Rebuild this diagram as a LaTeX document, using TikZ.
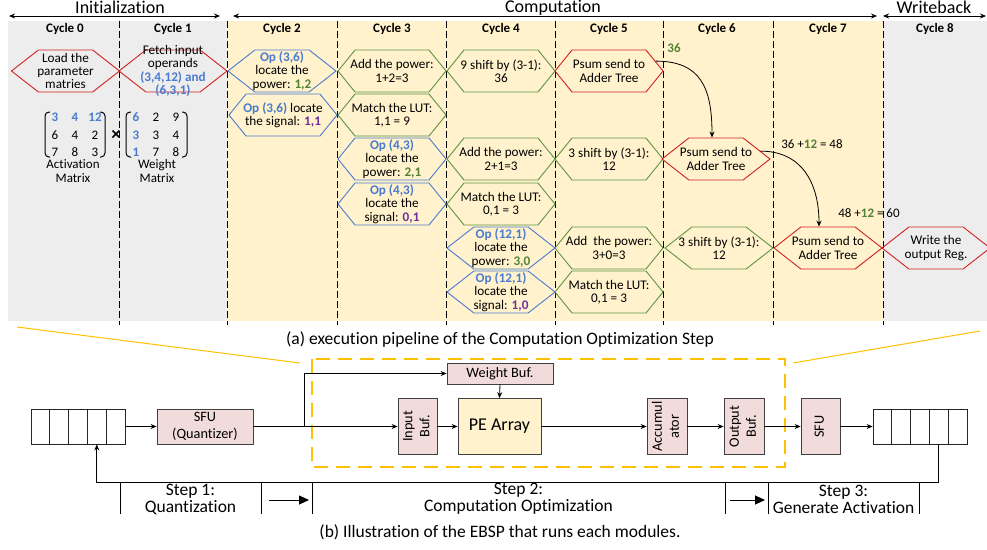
\documentclass[tikz,border=0pt]{standalone}
\usepackage{fontspec}
\setmainfont{Carlito}[Ligatures={NoCommon}]
\usepackage{graphicx}
\usepackage{tikz}
\usetikzlibrary{positioning, arrows.meta, calc, shapes.symbols}
\definecolor{panelGray}{HTML}{EDEDED}
\definecolor{panelYel}{HTML}{FFF2CC}
\definecolor{hexRed}{HTML}{D42020}
\definecolor{hexGreen}{HTML}{5F9444}
\definecolor{hexBlue}{HTML}{4A7BD0}
\definecolor{numGreen}{HTML}{548235}
\definecolor{numPurple}{HTML}{7030A0}
\definecolor{bufPink}{HTML}{F2DCDB}
\definecolor{peYel}{HTML}{FFF2CC}
\definecolor{zoomYel}{HTML}{FFC000}
\newcommand{\opnd}[1]{\textbf{\textcolor{hexBlue}{#1}}}
\newcommand{\pwr}[1]{\textbf{\textcolor{numGreen}{#1}}}
\newcommand{\sgn}[1]{\textbf{\textcolor{numPurple}{#1}}}
\newcommand{\vtxt}[1]{\rotatebox{90}{\begin{tabular}{@{}c@{}}#1\end{tabular}}}

\begin{document}
\begin{tikzpicture}[x=1pt, y=-1pt, hexw/.style={shape=signal, signal to=east and west, signal pointer angle=76, minimum width=108pt, minimum height=42pt, inner sep=0pt, line width=0.9pt}, hexn/.style={hexw, signal pointer angle=102}, txt/.style={align=center, inner sep=0pt, font=\fontsize{13.2}{13.3}\selectfont}, cyc/.style={font=\fontsize{13}{14}\selectfont\bfseries}, sep/.style={dash pattern=on 6.5pt off 3.5pt, line width=0.9pt}, span/.style={{Stealth[length=6pt,width=5pt]}-{Stealth[length=6pt,width=5pt]}, line width=0.8pt}, num/.style={font=\fontsize{13}{14}\selectfont}, box/.style={draw=black!75, fill=bufPink, line width=0.8pt, inner sep=0pt, align=center, font=\fontsize{14.3}{17}\selectfont}, cell/.style={draw=black!85, minimum width=18.8pt, minimum height=35pt, inner sep=0pt, line width=0.8pt}, arr/.style={-{Stealth[length=6pt,width=5pt]}, line width=0.8pt}, big/.style={-{Triangle[length=10pt,width=9pt]}, line width=0.9pt}, stp/.style={align=center, inner sep=0pt, font=\fontsize{17.5}{17}\selectfont}, capline/.style={font=\fontsize{17.5}{18}\selectfont}]
\useasboundingbox (0,0) rectangle (987,549);
% cycle panels
\fill[panelGray] (8,21) rectangle (227,321);
\fill[panelYel] (227,21) rectangle (883,321);
\fill[panelGray] (883,21) rectangle (987,321);
\foreach \x in {119,227,337,446,555,663,773,883} \draw[sep] (\x,21) -- (\x,325);
% phases
\node[font=\fontsize{18}{18}\selectfont] (init) at (120,7.5) {Initialization};
\node[font=\fontsize{18}{18}\selectfont] (comp) at (553,7.5) {Computation};
\node[font=\fontsize{18}{18}\selectfont] (wb) at (934,7.5) {Writeback};
\draw[span] (9,16) -- (220,16);
\draw[span] (233,16) -- (877,16);
\draw[span] (883,16) -- (986,16);
\foreach \x/\n in {65/0,173/1,282/2,392/3,501/4,609/5,717/6,828/7,935/8} \node[cyc] (cy\n) at (\x,29) {Cycle \n};
% cycle 0 and 1
\node[hexw, draw=hexRed] (load) at (65.5,71) {}; \node[txt] (loadt) at (load) {Load the\\parameter\\matries};
\node[hexw, draw=hexRed] (fetch) at (173,71) {}; \node[txt] (fetcht) at (fetch) {Fetch input\\operands\\\opnd{(3,4,12) and}\\\opnd{(6,3,1)}};
% activation x weight
\draw[line width=1pt, rounded corners=4pt] (50,112) -| (45,157) -- (50,157);
\draw[line width=1pt, rounded corners=4pt] (100,112) -| (105,157) -- (100,157);
\draw[line width=1pt, rounded corners=4pt] (131,112) -| (126,157) -- (131,157);
\draw[line width=1pt, rounded corners=4pt] (182,112) -| (187,157) -- (182,157);
\foreach \v [count=\i] in {3,4,12} \node[num, text=hexBlue, font=\bfseries\fontsize{13}{14}\selectfont] (a1\i) at ({35+20*\i},117) {\v};
\foreach \v [count=\i] in {6,4,2} \node[num] (a2\i) at ({35+20*\i},135) {\v};
\foreach \v [count=\i] in {7,8,3} \node[num] (a3\i) at ({35+20*\i},152) {\v};
\foreach \v/\r in {6/117,3/135,1/152} \node[num, text=hexBlue, font=\bfseries\fontsize{13}{14}\selectfont] (w\v) at (136,\r) {\v};
\foreach \a/\b/\r in {2/9/117,3/4/135,7/8/152} {\node[num] (wm\r) at (156,\r) {\a}; \node[num] (wr\r) at (176,\r) {\b};}
\node[font=\bfseries\fontsize{19}{19}\selectfont] (times) at (116,135) {×};
\node[txt, font=\fontsize{13}{13.5}\selectfont] (actm) at (73,171) {Activation\\Matrix};
\node[txt, font=\fontsize{13}{13.5}\selectfont] (wgtm) at (157,171) {Weight\\Matrix};
% cycle 2
\node[hexw, draw=hexBlue] (p36) at (282,71) {}; \node[txt] (p36t) at (p36) {\opnd{Op (3,6)}\\locate the\\power: \pwr{1,2}};
\node[hexn, draw=hexBlue] (s36) at (283,115) {}; \node[txt] (s36t) at (s36) {\opnd{Op (3,6)} locate\\the signal: \sgn{1,1}};
% cycle 3
\node[hexn, draw=hexGreen] (add1) at (392,71) {}; \node[txt] (add1t) at (add1) {Add the power:\\1+2=3};
\node[hexn, draw=hexGreen] (lut1) at (392,115) {}; \node[txt] (lut1t) at (lut1) {Match the LUT:\\1,1 = 9};
\node[hexn, draw=hexBlue] (p43) at (392,159) {}; \node[txt] (p43t) at (p43) {\opnd{Op (4,3)}\\locate the\\power: \pwr{2,1}};
\node[hexn, draw=hexBlue] (s43) at (392,204) {}; \node[txt] (s43t) at (s43) {\opnd{Op (4,3)}\\locate the\\signal: \sgn{0,1}};
% cycle 4
\node[hexn, draw=hexGreen] (sh1) at (501,71) {}; \node[txt] (sh1t) at (sh1) {9 shift by (3-1):\\36};
\node[hexn, draw=hexGreen] (add2) at (501,159) {}; \node[txt] (add2t) at (add2) {Add the power:\\2+1=3};
\node[hexn, draw=hexGreen] (lut2) at (501,204) {}; \node[txt] (lut2t) at (lut2) {Match the LUT:\\0,1 = 3};
\node[hexw, draw=hexBlue] (p121) at (501,248) {}; \node[txt] (p121t) at (p121) {\opnd{Op (12,1)}\\locate the\\power: \pwr{3,0}};
\node[hexw, draw=hexBlue] (s121) at (501,292) {}; \node[txt] (s121t) at (s121) {\opnd{Op (12,1)}\\locate the\\signal: \sgn{1,0}};
% cycle 5
\node[hexn, draw=hexRed] (ps1) at (609,71) {}; \node[txt] (ps1t) at (ps1) {Psum send to\\Adder Tree};
\node[hexn, draw=hexGreen] (sh2) at (609,159) {}; \node[txt] (sh2t) at (sh2) {3 shift by (3-1):\\12};
\node[hexn, draw=hexGreen] (add3) at (609,248) {}; \node[txt] (add3t) at (add3) {Add\ \ the power:\\3+0=3};
\node[hexn, draw=hexGreen] (lut3) at (609,292) {}; \node[txt] (lut3t) at (lut3) {Match the LUT:\\0,1 = 3};
% cycle 6 to 8
\node[hexw, draw=hexRed] (ps2) at (716,159) {}; \node[txt] (ps2t) at (ps2) {Psum send to\\Adder Tree};
\node[hexw, draw=hexGreen] (sh3) at (719,248) {}; \node[txt] (sh3t) at (sh3) {3 shift by (3-1):\\12};
\node[hexw, draw=hexRed] (ps3) at (828,248) {}; \node[txt] (ps3t) at (ps3) {Psum send to\\Adder Tree};
\node[hexw, draw=hexRed] (wr) at (936,248) {}; \node[txt] (wrt) at (wr) {Write the\\output Reg.};
% partial sums
\node[num, font=\bfseries\fontsize{13}{14}\selectfont, text=numGreen] (sum0) at (674,48) {36};
\node[num] (sum1) at (812,144) {36 +\pwr{12} = 48};
\node[num] (sum2) at (869,213) {48 +\pwr{12} = 60};
\draw[arr] (ps1.12) .. controls +(45,0) and +(0,-50) .. ([xshift=-4pt]ps2.north);
\draw[arr] (ps2.10) .. controls +(40,0) and +(0,-45) .. ([xshift=-9pt]ps3.north);
\node[capline] (capa) at (500,340) {(a) execution pipeline of the Computation Optimization Step};
% zoom into step 2
\draw[zoomYel, line width=1pt] (17,327) -- (300,363);
\draw[zoomYel, line width=1pt] (793,363) -- (980,331);
\draw[zoomYel, line width=1.3pt, dash pattern=on 14pt off 8pt] (312,359) rectangle (785,467);
% datapath
\foreach \i in {1,...,5} {\node[cell] (lr\i) at ({21.6+18.8*\i},426.5) {}; \node[cell] (rr\i) at ({863.6+18.8*\i},426.5) {};}
\node[box, minimum width=96pt, minimum height=35pt] (sfuq) at (205,426.5) {SFU\\(Quantizer)};
\node[box, minimum width=106pt, minimum height=21pt] (wbuf) at (500,373.5) {Weight Buf.};
\node[box, minimum width=39pt, minimum height=56pt] (inbuf) at (417.5,426.5) {\vtxt{Input\\Buf.}};
\node[box, fill=peYel, minimum width=83pt, minimum height=56pt, font=\fontsize{18}{20}\selectfont] (pe) at (499.5,426.5) {PE Array};
\node[box, minimum width=40pt, minimum height=56pt] (accu) at (667,426.5) {\vtxt{Accumul\\ator}};
\node[box, minimum width=40pt, minimum height=56pt] (obuf) at (744,426.5) {\vtxt{Output\\Buf.}};
\node[box, minimum width=39pt, minimum height=56pt] (sfuo) at (820.5,426.5) {\vtxt{SFU}};
\coordinate (fork) at (304,426.5);
\coordinate (loop) at (0,482);
\draw[arr] (lr5.east) -- (sfuq.west);
\draw[arr] (sfuq.east) -- (inbuf.west);
\draw[arr] (fork) |- (wbuf.west);
\draw[arr] (inbuf.east) -- (pe.west);
\draw[arr] (wbuf.south) -- (pe.north);
\draw[arr] (pe.east) -- (accu.west);
\draw[arr] (accu.east) -- (obuf.west);
\draw[arr] (obuf.east) -- (sfuo.west);
\draw[arr] (sfuo.east) -- (rr1.west);
\draw[arr] (rr4.south) -- (rr4.south |- loop) -| (lr4.south);
% steps
\foreach \x in {120,261,312,725,768,919} \draw[line width=0.8pt] (\x,482) -- (\x,514);
\node[stp] (st1) at (190.5,499) {Step 1:\\Quantization};
\node[stp] (st2) at (518.5,499) {Step 2:\\Computation Optimization};
\node[stp] (st3) at (843.5,499) {Step 3:\\Generate Activation};
\draw[big] (269,500) -- (309,500);
\draw[big] (730,500) -- (765,500);
\node[capline] (capb) at (500,532) {(b) Illustration of the EBSP that runs each modules.};
\end{tikzpicture}
\end{document}
